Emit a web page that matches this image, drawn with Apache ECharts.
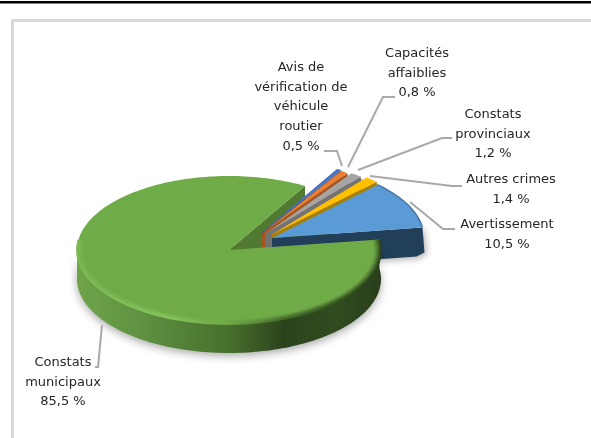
<!DOCTYPE html>
<html><head><meta charset="utf-8">
<style>html,body{margin:0;padding:0;background:#fff}#c{width:591px;height:438px}</style>
<script src="https://cdn.jsdelivr.net/npm/echarts@6/dist/echarts.min.js"></script>
</head><body><div id="c"></div>
<script>
// --- data (clockwise from the start angle)
const names = ["Avis de\nvérification de\nvéhicule\nroutier","Capacités\naffaiblies","Constats\nprovinciaux","Autres crimes","Avertissement","Constats\nmunicipaux"];
const values = [0.5,0.8,1.2,1.4,10.5,85.5];
// --- styles
const topColors = ["#4472C4","#ED7D31","#A5A5A5","#FFC000","#5B9BD5","#6FAB47"];
const wallColors = ["#2F5080","#A5561F","#737373","#A87F00","#223F59","#4F7A30"];
// --- layout
const RX=152, RY=74, DEPTH=29, START=60;
const centers = [[261,233],[261,234],[265,234],[271,235],[272,238],[229,250]];
const labelPos = [[301,68],[417,54],[493,115],[511,180],[507,225],[63,363]];
const leaders = [
 [[324,151],[337,151],[342,166]],
 [[395,97],[383,97],[348,167]],
 [[452,138],[442,138],[358,170]],
 [[462,186],[452,186],[370,176]],
 [[455,229],[443,229],[410,202]],
 [[95,367],[98,367],[102,325]]
];
const total = values.reduce((a,b)=>a+b,0);
const rad = d=>d*Math.PI/180;
function pt(c,a,dy,rx,ry){rx=rx||RX;ry=ry||RY;return [c[0]+rx*Math.cos(rad(a)), c[1]-ry*Math.sin(rad(a))+(dy||0)];}
function arc(c,a0,a1,dy,rx,ry){const n=Math.max(4,Math.ceil(Math.abs(a1-a0)/1.5)),p=[];for(let i=0;i<=n;i++)p.push(pt(c,a0+(a1-a0)*i/n,dy,rx,ry));return p;}
const LG=(stops)=>new echarts.graphic.LinearGradient(0,0,1,0,stops.map(s=>({offset:s[0],color:s[1]})));

function renderItem(params,api){
  const i=params.dataIndex, v=api.value(0);
  let acc=0; for(let k=0;k<i;k++) acc+=values[k];
  const a0=START-acc/total*360, a1=a0-v/total*360;   // clockwise
  const c=centers[i], kids=[], isMain=i===values.length-1;
  const base=i*2+2;
  const pieceTop=arc(c,a0,a1,0);
  const apex=[c[0],c[1]];
  if(!isMain){
    const e=pt(c,a1);
    kids.push({type:'polygon',z2:base,shape:{points:[apex,e,[e[0]+2,e[1]+DEPTH-4],[e[0]-6,e[1]+DEPTH],[apex[0],apex[1]+DEPTH]]},
      style:{fill:wallColors[i],shadowBlur:i===4?7:0,shadowColor:'rgba(0,0,0,0.3)',shadowOffsetX:2,shadowOffsetY:2}});
  } else {
    // back cut face of the main slice, ending at the closing edge
    const e=pt(c,a1+360);
    kids.push({type:'polygon',z2:1,shape:{points:[apex,e,[e[0],e[1]+DEPTH],[apex[0],apex[1]+DEPTH]]},style:{fill:wallColors[i]}});
    // outer wall: lower half of the rim
    const endA=a0+360;
    const up=arc(c,180,endA,0), lo=arc(c,180,endA,DEPTH).reverse();
    kids.push({type:'polygon',z2:30,shape:{points:up.concat(lo)},
      style:{fill:LG([[0,'#6FA44A'],[0.22,'#5E9040'],[0.5,'#47702C'],[0.68,'#2B431C'],[0.85,'#304C20'],[1,'#2A3F1B']]),
             shadowBlur:9,shadowColor:'rgba(0,0,0,0.33)',shadowOffsetY:3}});
  }
  const tp=[apex].concat(pieceTop);
  kids.push({type:'polygon',z2:isMain?31:base+1,shape:{points:tp},style:{fill:topColors[i]}});
  if(isMain){
    const endA=a0+360;
    const steps=[[0,1],[1.5,.75],[3,.5],[4.5,.28],[6,.14]];
    steps.forEach(s=>{
      kids.push({type:'polyline',z2:32,shape:{points:arc(c,172,endA,0,RX-s[0],RY-s[0]*0.7)},
       style:{fill:null,lineWidth:1.8,opacity:s[1],
         stroke:LG([[0,'#7CB955'],[0.3,'#86C45D'],[0.5,'#6FA748'],[0.68,'#45692D'],[0.85,'#34521F'],[1,'#2A3F1B']])}});
    });
  } else if(i===4){
    kids.push({type:'polyline',z2:base+1,shape:{points:pieceTop},style:{fill:null,stroke:'#3F75A8',lineWidth:1.4}});
  }
  kids.push({type:'polyline',z2:40,shape:{points:leaders[i]},style:{fill:null,stroke:'#A9A9A9',lineWidth:2}});
  const pct=v.toFixed(1).replace('.',',')+' %';
  kids.push({type:'text',z2:41,x:labelPos[i][0],y:labelPos[i][1]-10,
    style:{text:names[i]+'\n'+pct,align:'center',verticalAlign:'top',fill:'#262626',
      font:'13px "DejaVu Sans"',lineHeight:19.6}});
  return {type:'group',children:kids};
}
const chart=echarts.init(document.getElementById('c'),null,{renderer:'canvas'});
chart.setOption({
  animation:false,
  backgroundColor:'#fff',
  graphic:[
    {type:'rect',shape:{x:0,y:1,width:591,height:2.4},style:{fill:'#000'},silent:true},
    {type:'polyline',shape:{points:[[12.5,438],[12.5,20.5],[591,20.5]]},style:{fill:null,stroke:'#D9D9D9',lineWidth:3},silent:true}
  ],
  series:[{type:'custom',coordinateSystem:'none',renderItem,data:values.map(v=>[v]),silent:true,clip:false}]
});
</script></body></html>
